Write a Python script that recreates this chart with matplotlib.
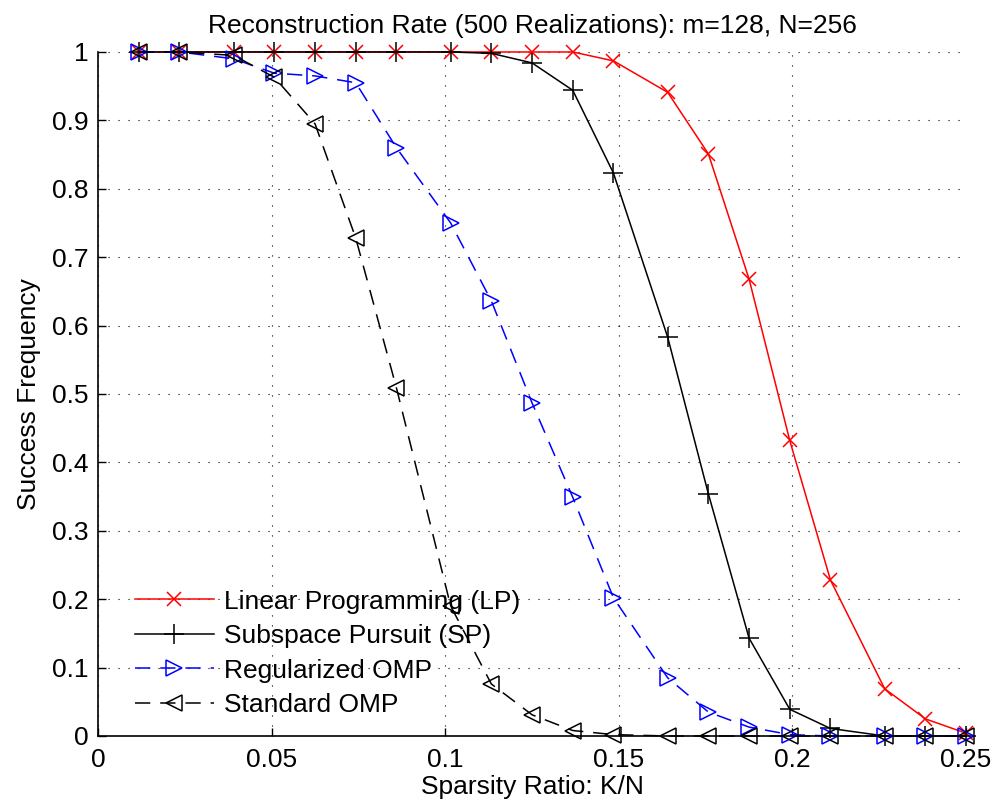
import numpy as np
import matplotlib
matplotlib.use('Agg')
import matplotlib.pyplot as plt

plt.rcParams['font.family'] = ['Liberation Sans', 'DejaVu Sans']

# sparsity ratio K/N, N=256
K = [3, 6, 10, 13, 16, 19, 22, 26, 29, 32, 35, 38, 42, 45, 48, 51, 54, 58, 61, 64]
ratio = np.array(K) / 256.0

lp = [1.0, 1.0, 1.0, 1.0, 1.0, 1.0, 1.0, 1.0, 1.0, 1.0, 1.0, 0.987, 0.941, 0.851,
      0.668, 0.432, 0.228, 0.069, 0.025, 0.004]
sp = [1.0, 1.0, 1.0, 1.0, 1.0, 1.0, 1.0, 1.0, 0.998, 0.984, 0.944, 0.823, 0.583,
      0.354, 0.143, 0.039, 0.011, 0.0, 0.0, 0.0]
romp = [1.0, 1.0, 0.99, 0.969, 0.965, 0.955, 0.860, 0.750, 0.636, 0.487, 0.349,
        0.202, 0.085, 0.035, 0.013, 0.002, 0.0, 0.0, 0.0, 0.0]
omp = [1.0, 1.0, 0.995, 0.963, 0.895, 0.728, 0.509, 0.19, 0.076, 0.031, 0.008,
       0.002, 0.0, 0.0, 0.0, 0.0, 0.0, 0.0, 0.0, 0.0]

labels = ['Linear Programming (LP)', 'Subspace Pursuit (SP)',
          'Regularized OMP', 'Standard OMP']

fs = 19
fig = plt.figure(figsize=(9.97, 8.07), dpi=100)
ax = fig.add_axes([0.0983, 0.088, 0.8707, 0.8476])

dash = (0, (10, 6.5))
ax.plot(ratio, lp, color='red', lw=1.1, marker='x', ms=10, mew=1.1,
        label=labels[0], clip_on=False)
ax.plot(ratio, sp, color='black', lw=1.1, marker='+', ms=15, mew=1.1,
        label=labels[1], clip_on=False)
ax.plot(ratio, romp, color='blue', lw=1.1, ls=dash, marker='>', ms=12, mew=1.1,
        mfc='none', label=labels[2], clip_on=False)
ax.plot(ratio, omp, color='black', lw=1.1, ls=dash, marker='<', ms=12, mew=1.1,
        mfc='none', label=labels[3], clip_on=False)

ax.set_xlim(0, 0.25)
ax.set_ylim(0, 1)
ax.set_xticks([0, 0.05, 0.1, 0.15, 0.2, 0.25])
ax.set_xticklabels(['0', '0.05', '0.1', '0.15', '0.2', '0.25'])
ax.set_yticks(np.arange(0, 11) / 10)
ax.set_yticklabels(['0', '0.1', '0.2', '0.3', '0.4', '0.5', '0.6', '0.7',
                    '0.8', '0.9', '1'])
ax.tick_params(direction='in', length=6, width=1, labelsize=fs, pad=7)
ax.tick_params(axis='x', pad=9)
ax.spines['top'].set_visible(False)
ax.spines['right'].set_visible(False)
ax.spines['left'].set_linewidth(1.2)
ax.spines['bottom'].set_linewidth(1.2)
ax.grid(True, color='black', ls=(0, (1, 8)), lw=0.8)
ax.set_axisbelow(True)

ax.set_title('Reconstruction Rate (500 Realizations): m=128, N=256',
             fontsize=fs, pad=14)
ax.set_xlabel('Sparsity Ratio: K/N', fontsize=fs, labelpad=2)
ax.set_ylabel('Success Frequency', fontsize=fs, labelpad=8)

ax.legend(loc='lower left', bbox_to_anchor=(0.03, 0.012), frameon=False,
          fontsize=fs, handlelength=3.0, handletextpad=0.4,
          labelspacing=0.4, borderaxespad=0)

fig.savefig('out.png', dpi=100)
